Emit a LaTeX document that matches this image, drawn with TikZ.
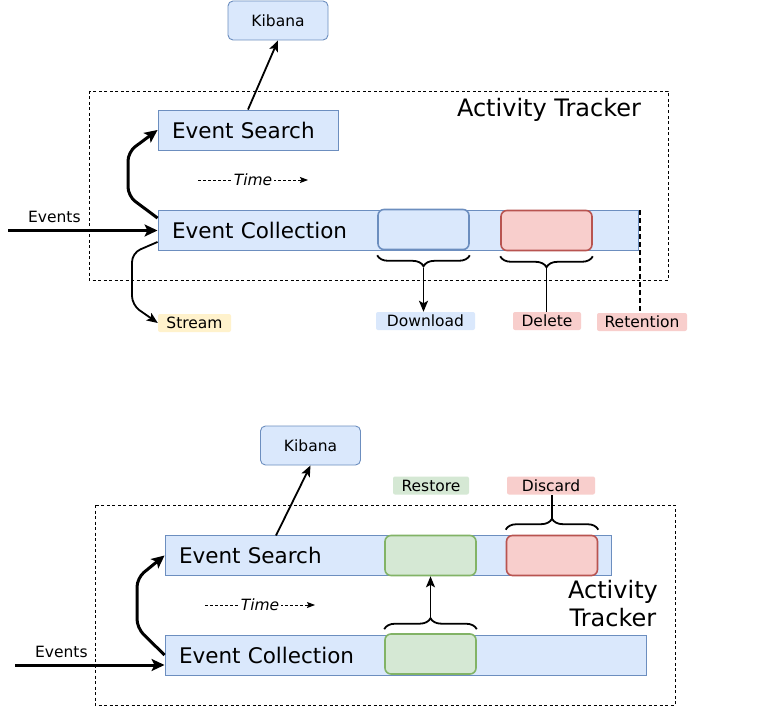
\documentclass[tikz,border=0pt]{standalone}
\usepackage{fontspec}
\setmainfont{DejaVu Sans}
\usetikzlibrary{arrows.meta,decorations.pathreplacing,calc}
\definecolor{bfill}{HTML}{DAE8FC}
\definecolor{bstroke}{HTML}{6C8EBF}
\definecolor{rfill}{HTML}{F8CECC}
\definecolor{rstroke}{HTML}{B85450}
\definecolor{gfill}{HTML}{D5E8D4}
\definecolor{gstroke}{HTML}{82B366}
\definecolor{yfill}{HTML}{FFF2CC}
\begin{document}
\begin{tikzpicture}[x=1pt,y=-1pt,
  bar/.style={draw=bstroke, fill=bfill, line width=0.9pt, inner ysep=0pt, inner xsep=14pt,
    minimum height=40pt, font=\fontsize{21.5}{25}\selectfont, align=left},
  inbox/.style={rounded corners=6pt, minimum width=91pt, minimum height=40pt, line width=1.6pt, inner sep=0pt},
  kib/.style={draw=bstroke, fill=bfill, rounded corners=5pt, line width=0.9pt, minimum width=100pt,
    minimum height=39pt, inner sep=0pt, font=\fontsize{15.5}{18}\selectfont},
  tag/.style={rounded corners=2pt, inner sep=0pt, minimum height=18pt, font=\fontsize{15.5}{18}\selectfont},
  container/.style={draw, line width=0.8pt, dash pattern=on 3pt off 2.5pt},
  bigtext/.style={font=\fontsize{24}{28}\selectfont, align=center, inner sep=0pt},
  smalltext/.style={font=\fontsize{15.5}{18}\selectfont, inner sep=0pt},
  timetext/.style={font=\fontsize{15.5}{18}\selectfont\itshape, fill=white, inner sep=2pt},
  thickarrow/.style={line width=3pt, -{Stealth[length=13pt,width=12pt,inset=3pt]}},
  thinarrow/.style={line width=1.8pt, -{Stealth[length=11pt,width=9pt,inset=2.5pt]}},
  timearrow/.style={line width=0.9pt, dash pattern=on 3pt off 2pt, -{Stealth[length=8pt,width=6pt,inset=1.5pt]}},
  bracestyle/.style={line width=1.8pt, decorate, decoration={brace, amplitude=11pt, aspect=0.5}},
]
\useasboundingbox[fill=white] (0,0) rectangle (784,706);

% ================= TOP DIAGRAM =================
\draw[container] (89,91) rectangle (668,280);
\node[bigtext] (at1) at (549,110) {Activity Tracker};

\node[kib] (kib1) at (278,20.5) {Kibana};
\node[bar, text width=152pt] (es1) at (248,130) {Event Search};
\node[bar, text width=452pt] (ec1) at (398,230.5) {Event Collection};

\node[inbox, draw=bstroke, fill=bfill] (bl1) at (423.5,229.5) {};
\node[inbox, draw=rstroke, fill=rfill] (rd1) at (546.5,230.5) {};

\node[tag, fill=bfill, minimum width=99pt] (dl) at (425.5,321) {Download};
\node[tag, fill=rfill, minimum width=68pt] (del) at (547,321) {Delete};
\node[tag, fill=rfill, minimum width=90pt] (ret) at (642,322) {Retention};
\node[tag, fill=yfill, minimum width=73pt] (str) at (194.5,323) {Stream};

% Kibana arrow
\draw[thinarrow] (es1.north) -- (kib1.south);

% Events in
\coordinate (ev1) at (8,230.5);
\draw[thickarrow] (ev1) -- node[smalltext, above=6pt, pos=0.31] {Events} (ec1.west);

% Collection -> Search
\coordinate (c1a) at (128,196);
\coordinate (c1b) at (128,152);
\draw[thickarrow, rounded corners=9pt] ([yshift=-8pt]ec1.north west) -- (c1a) -- (c1b) -- (es1.west);

% Stream
\coordinate (s1a) at (132,253);
\coordinate (s1b) at (132,305);
\draw[thinarrow, rounded corners=9pt] ([yshift=9pt]ec1.south west) -- (s1a) -- (s1b) -- (str.west);

% Time
\coordinate (t1a) at (198,180);
\coordinate (t1b) at (308,180);
\draw[timearrow] (t1a) -- node[timetext] {Time} (t1b);

% Braces
\draw[bracestyle] ([yshift=-5pt]bl1.south east) -- ([yshift=-5pt]bl1.south west);
\draw[thinarrow] ($(bl1.south)+(0,17.5)$) -- (bl1.south |- dl.north);
\draw[bracestyle] ([yshift=-5pt]rd1.south east) -- ([yshift=-5pt]rd1.south west);
\draw[line width=1.8pt] ($(rd1.south)+(0,17)$) -- (rd1.south |- del.north);

% Retention
\draw[line width=2pt, dash pattern=on 5pt off 3pt] ([xshift=1.5pt]ec1.north east) -- ([xshift=1.5pt]ec1.north east |- ret.north);

% ================= BOTTOM DIAGRAM =================
\draw[container] (95,505) rectangle (675,705);
\node[bigtext] (at2) at (613,604) {Activity\\Tracker};

\node[kib] (kib2) at (310.5,445.5) {Kibana};
\node[tag, fill=gfill, minimum width=76pt] (rst) at (431,485.5) {Restore};
\node[tag, fill=rfill, minimum width=88pt] (dsc) at (551,485.5) {Discard};

\node[bar, text width=418pt] (es2) at (388,555.5) {Event Search};
\node[bar, text width=453pt] (ec2) at (405.5,655) {Event Collection};

\node[inbox, draw=gstroke, fill=gfill] (gr1) at (430.5,555.5) {};
\node[inbox, draw=rstroke, fill=rfill] (rd2) at (552,555.5) {};
\node[inbox, draw=gstroke, fill=gfill] (gr2) at (430.5,654) {};

% Kibana arrow
\coordinate (k2s) at (276,535.5);
\draw[thinarrow] (k2s) -- (kib2.south);

% Events in
\coordinate (ev2) at (15,665);
\draw[thickarrow] (ev2) -- node[smalltext, above=6pt, pos=0.31] {Events} ([yshift=-10pt]ec2.west);

% Collection -> Search
\coordinate (c2a) at (137,628);
\coordinate (c2b) at (137,578);
\draw[thickarrow, rounded corners=9pt] (ec2.west) -- (c2a) -- (c2b) -- (es2.west);

% Time
\coordinate (t2a) at (205,605);
\coordinate (t2b) at (315,605);
\draw[timearrow] (t2a) -- node[timetext] {Time} (t2b);

% Braces
\draw[bracestyle] ([yshift=5pt]rd2.north west) -- ([yshift=5pt]rd2.north east);
\draw[line width=1.8pt] ($(rd2.north)+(0,-16)$) -- (rd2.north |- dsc.south);
\draw[bracestyle] ([yshift=4pt]gr2.north west) -- ([yshift=4pt]gr2.north east);
\draw[thinarrow] ($(gr2.north)+(0,-15)$) -- (gr1.south);

\end{tikzpicture}
\end{document}
